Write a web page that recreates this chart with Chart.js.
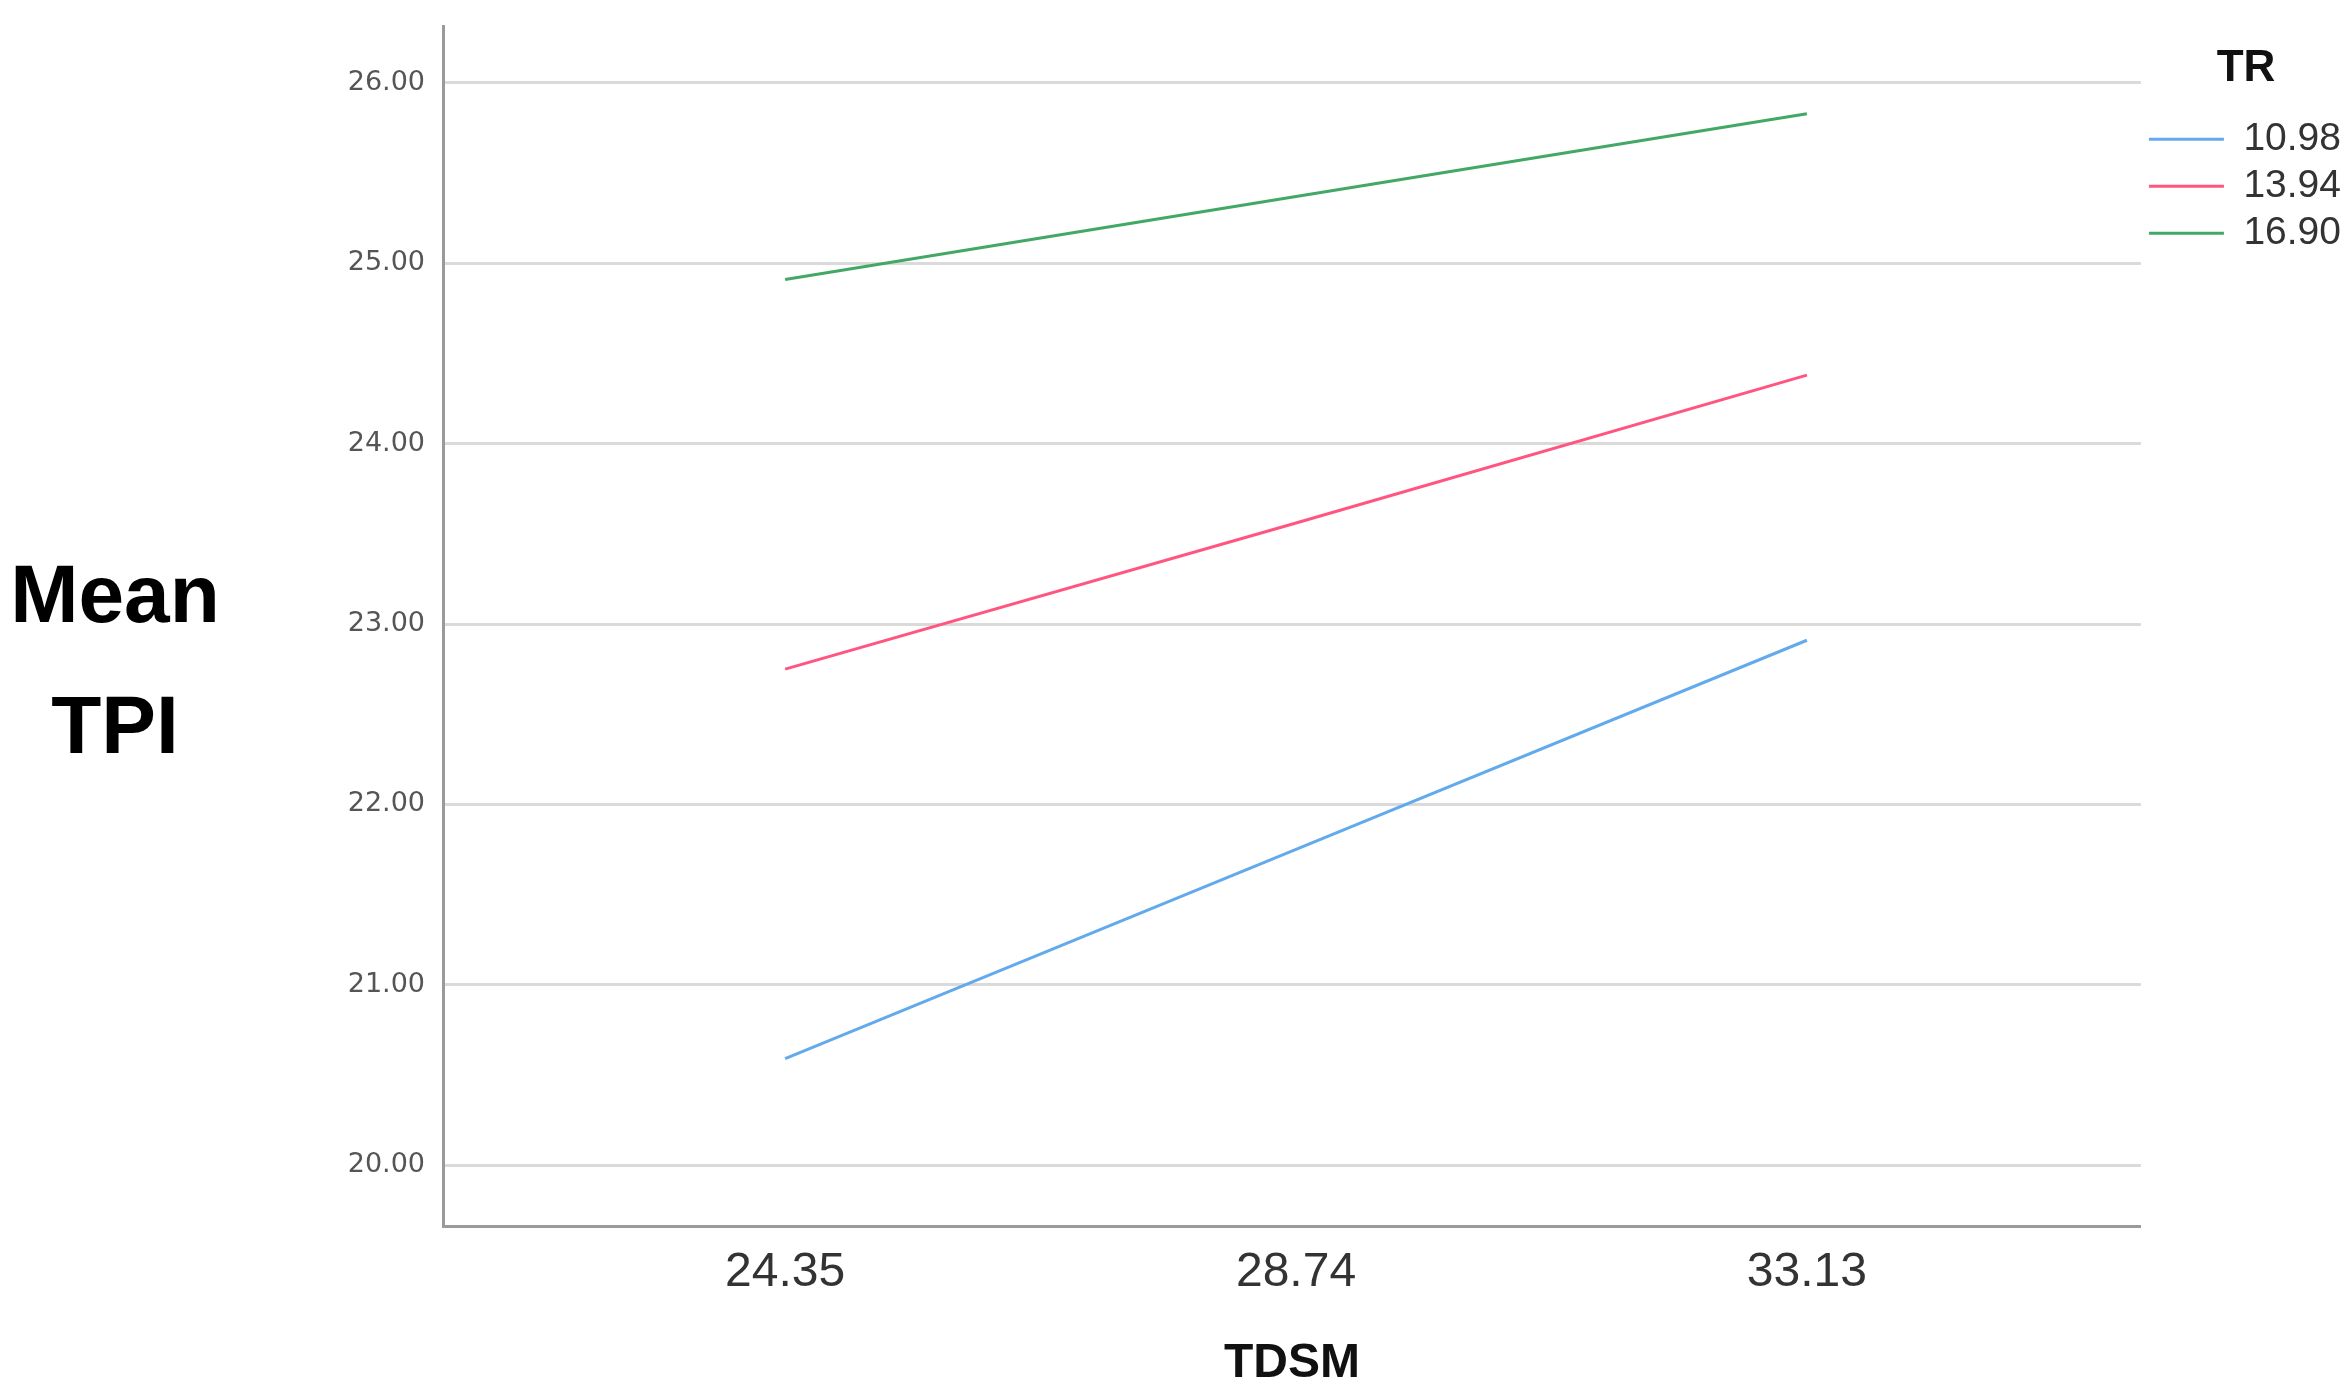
<!DOCTYPE html>
<html>
<head>
<meta charset="utf-8">
<script src="https://cdn.jsdelivr.net/npm/chart.js@4.4.1/dist/chart.umd.min.js"></script>
<style>
  html, body { margin: 0; padding: 0; background: #ffffff; }
  canvas { display: block; }
</style>
</head>
<body>
<canvas id="c" width="2351" height="1400"></canvas>
<script>
// ---- data ----
const tdsmValues = [24.35, 28.74, 33.13];          // x categories (TDSM)
const trLabels = ['10.98', '13.94', '16.90'];       // legend (TR)
const tpiTR1098 = [20.59, 21.75, 22.91];
const tpiTR1394 = [22.75, 23.56, 24.38];
const tpiTR1690 = [24.91, 25.37, 25.83];
const yTickValues = [20, 21, 22, 23, 24, 25, 26];
const xTitle = 'TDSM';
const yTitleLines = ['Mean', 'TPI'];
const legendTitle = 'TR';

const seriesValues = [tpiTR1098, tpiTR1394, tpiTR1690];
const seriesColors = ['#62aaec', '#ff5580', '#43a866'];

const datasets = seriesValues.map((vals, i) => ({
  label: trLabels[i],
  data: vals.map((v, j) => ({ x: tdsmValues[j], y: v })),
  borderColor: seriesColors[i],
  backgroundColor: seriesColors[i],
  borderWidth: 3,
  pointRadius: 0,
  tension: 0,
  fill: false
}));

const yTitlePlugin = {
  id: 'yTitle',
  afterDraw(chart) {
    const ctx = chart.ctx;
    ctx.save();
    ctx.font = 'bold 82px "Liberation Sans", Arial, sans-serif';
    ctx.fillStyle = '#000000';
    ctx.textAlign = 'center';
    ctx.textBaseline = 'alphabetic';
    ctx.fillText(yTitleLines[0], 115, 622);
    ctx.fillText(yTitleLines[1], 115, 753);
    ctx.restore();
  }
};

new Chart(document.getElementById('c'), {
  type: 'line',
  data: { datasets },
  options: {
    responsive: false,
    animation: false,
    devicePixelRatio: 1,
    layout: { padding: { left: 0, right: 0, top: 26, bottom: 0 } },
    plugins: {
      tooltip: { enabled: false },
      legend: {
        position: 'right',
        align: 'start',
        title: {
          display: true,
          text: legendTitle,
          color: '#111111',
          font: { family: '"Liberation Sans", Arial, sans-serif', size: 44, weight: 'bold' },
          padding: { top: 21, bottom: 12 }
        },
        labels: {
          boxWidth: 75,
          boxHeight: 3,
          padding: 8,
          color: '#333333',
          font: { family: '"Liberation Sans", Arial, sans-serif', size: 39 },
          generateLabels: (chart) => chart.data.datasets.map((ds, i) => ({
            text: ds.label,
            fillStyle: ds.borderColor,
            strokeStyle: ds.borderColor,
            lineWidth: 0,
            hidden: false,
            datasetIndex: i,
            fontColor: '#333333'
          }))
        }
      }
    },
    scales: {
      x: {
        type: 'linear',
        min: 21.41,
        max: 36.0,
        afterBuildTicks: (scale) => { scale.ticks = tdsmValues.map(v => ({ value: v })); },
        afterFit: (scale) => { scale.height = 174; scale.paddingLeft = 0; scale.paddingRight = 0; },
        grid: { display: false, drawTicks: false },
        border: { display: true, color: '#9a9a9a', width: 3 },
        ticks: {
          padding: 18,
          color: '#333333',
          font: { family: '"Liberation Sans", Arial, sans-serif', size: 48 },
          maxRotation: 0,
          autoSkip: false,
          callback: (v) => Number(v).toFixed(2)
        },
        title: {
          display: true,
          text: xTitle,
          color: '#111111',
          font: { family: '"Liberation Sans", Arial, sans-serif', size: 48, weight: 'bold' },
          padding: { top: 0, bottom: 7 }
        }
      },
      y: {
        type: 'linear',
        min: 19.662,
        max: 26.316,
        afterBuildTicks: (scale) => { scale.ticks = yTickValues.map(v => ({ value: v })); },
        afterFit: (scale) => { scale.width = 443; scale.paddingTop = 0; scale.paddingBottom = 0; },
        grid: { color: '#dadada', lineWidth: 3, drawTicks: false },
        border: { display: true, color: '#9a9a9a', width: 3 },
        ticks: {
          padding: 18,
          color: '#555555',
          font: { family: '"DejaVu Sans", sans-serif', size: 27 },
          callback: (v) => Number(v).toFixed(2)
        },
        title: { display: false }
      }
    }
  },
  plugins: [yTitlePlugin]
});
</script>
</body>
</html>
